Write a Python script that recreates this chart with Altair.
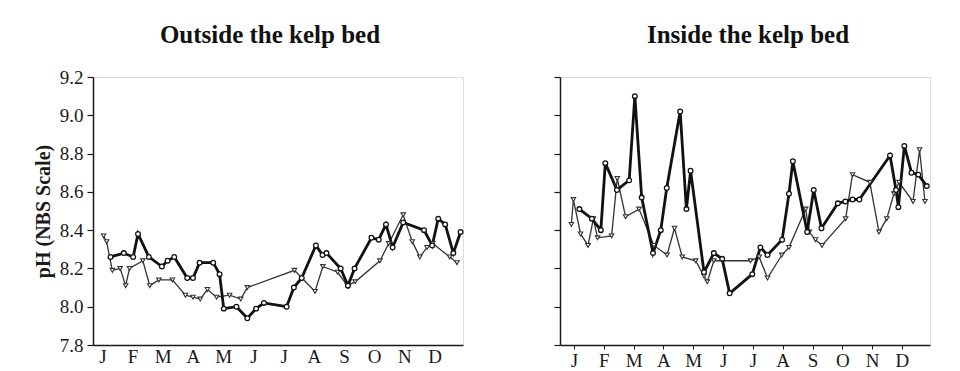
import altair as alt
import pandas as pd

month_labels = ["J", "F", "M", "A", "M", "J", "J", "A", "S", "O", "N", "D"]
y_ticks = [7.8, 8.0, 8.2, 8.4, 8.6, 8.8, 9.0, 9.2]

# Outside the kelp bed
out_thick_m = [0.27, 0.71, 1.02, 1.18, 1.54, 1.97, 2.16, 2.38, 2.81, 3.00, 3.22, 3.67, 3.88, 4.02, 4.44,
               4.80, 5.09, 5.35, 6.10, 6.34, 6.60, 7.07, 7.29, 7.42, 7.89, 8.13, 8.35, 8.91, 9.15, 9.39,
               9.61, 9.96, 10.65, 10.92, 11.12, 11.35, 11.62, 11.86]
out_thick_ph = [8.26, 8.28, 8.26, 8.38, 8.26, 8.21, 8.24, 8.26, 8.15, 8.15, 8.23, 8.23, 8.17, 7.99, 8.00,
                7.94, 7.99, 8.02, 8.00, 8.10, 8.15, 8.32, 8.27, 8.28, 8.20, 8.11, 8.20, 8.36, 8.35, 8.43,
                8.31, 8.44, 8.40, 8.32, 8.46, 8.43, 8.28, 8.39]
out_thin_m = [0.04, 0.14, 0.33, 0.59, 0.77, 0.90, 1.34, 1.57, 1.87, 2.32, 2.75, 3.00, 3.24, 3.48, 3.78,
              4.21, 4.58, 4.80, 6.36, 7.04, 7.30, 7.79, 8.11, 8.37, 9.19, 9.48, 9.96, 10.26, 10.51, 10.75,
              10.94, 11.50, 11.74]
out_thin_ph = [8.37, 8.34, 8.19, 8.20, 8.11, 8.20, 8.24, 8.11, 8.14, 8.14, 8.06, 8.05, 8.04, 8.09, 8.05,
               8.06, 8.04, 8.10, 8.19, 8.08, 8.21, 8.18, 8.11, 8.13, 8.24, 8.33, 8.48, 8.34, 8.26, 8.31,
               8.33, 8.26, 8.23]

# Inside the kelp bed
in_thick_m = [0.18, 0.60, 0.90, 1.05, 1.44, 1.85, 2.04, 2.27, 2.65, 2.91, 3.11, 3.56, 3.77, 3.91, 4.36,
              4.69, 4.97, 5.22, 5.98, 6.25, 6.49, 6.98, 7.21, 7.34, 7.82, 8.04, 8.30, 8.85, 9.10, 9.34,
              9.57, 10.60, 10.80, 10.88, 11.08, 11.32, 11.55, 11.83]
in_thick_ph = [8.51, 8.46, 8.40, 8.75, 8.61, 8.66, 9.10, 8.57, 8.28, 8.40, 8.62, 9.02, 8.51, 8.71, 8.18,
               8.28, 8.25, 8.07, 8.17, 8.31, 8.27, 8.35, 8.59, 8.76, 8.39, 8.61, 8.41, 8.54, 8.55, 8.56,
               8.56, 8.79, 8.61, 8.52, 8.84, 8.70, 8.69, 8.63]
in_thin_m = [-0.09, -0.02, 0.22, 0.47, 0.65, 0.79, 1.26, 1.45, 1.73, 2.18, 2.68, 3.12, 3.37, 3.63, 4.08,
             4.36, 4.47, 4.69, 5.92, 6.21, 6.49, 6.97, 7.21, 7.77, 7.89, 8.10, 8.32, 9.11, 9.34, 9.92,
             10.23, 10.49, 10.73, 10.90, 11.37, 11.59, 11.77]
in_thin_ph = [8.43, 8.56, 8.38, 8.32, 8.46, 8.36, 8.37, 8.67, 8.47, 8.51, 8.32, 8.27, 8.41, 8.26, 8.24,
              8.16, 8.13, 8.24, 8.24, 8.26, 8.15, 8.27, 8.31, 8.51, 8.39, 8.35, 8.32, 8.46, 8.69, 8.65,
              8.39, 8.46, 8.59, 8.65, 8.55, 8.82, 8.55]

FONT = "Liberation Serif"
INK = "#1a1a1a"
label_expr = "[" + ",".join("'%s'" % s for s in month_labels) + "][datum.value]"


def frame(m, ph, series):
    return pd.DataFrame({"m": m, "ph": ph, "series": series, "i": list(range(len(m)))})


def panel(thick_m, thick_ph, thin_m, thin_ph, title, x_domain, show_y, title_dx, title_offset, x_tick):
    df = pd.concat([frame(thick_m, thick_ph, "thick"), frame(thin_m, thin_ph, "thin")])
    x = alt.X("m:Q", scale=alt.Scale(domain=x_domain, nice=False, zero=False),
              axis=alt.Axis(values=list(range(12)), labelExpr=label_expr, title=None,
                            labelFont=FONT, labelFontSize=19, labelColor=INK, labelOverlap=False,
                            tickSize=x_tick, ticks=x_tick > 0, labelPadding=2, domainColor=INK,
                            domainWidth=1.5, tickColor=INK, grid=False))
    if show_y:
        yaxis = alt.Axis(values=y_ticks, format=".1f", title="pH (NBS Scale)",
                         titleFont=FONT, titleFontSize=20, titleFontWeight="bold", titleColor=INK,
                         titlePadding=6, labelFont=FONT, labelFontSize=19, labelColor=INK,
                         tickSize=6, labelPadding=4, domainColor=INK, domainWidth=1.5,
                         tickColor=INK, tickWidth=1.2, grid=False)
    else:
        yaxis = alt.Axis(values=y_ticks, labels=False, title=None, tickSize=6, domainColor=INK,
                         domainWidth=1.5, tickColor=INK, tickWidth=1.2, grid=False)
    y = alt.Y("ph:Q", scale=alt.Scale(domain=[7.8, 9.2], nice=False, zero=False), axis=yaxis)
    base = alt.Chart(df)
    thin = base.transform_filter(alt.datum.series == "thin")
    thick = base.transform_filter(alt.datum.series == "thick")
    thin_line = thin.mark_line(color="#333333", strokeWidth=1.3).encode(x=x, y=y, order="i:Q")
    thick_line = thick.mark_line(color="#111111", strokeWidth=2.8).encode(x=x, y=y, order="i:Q")
    thin_pts = thin.mark_point(shape="triangle-down", filled=True, fill="white", stroke="#333333",
                               strokeWidth=1.1, size=20, opacity=1).encode(x=x, y=y)
    thick_pts = thick.mark_point(shape="circle", filled=True, fill="white", stroke="#111111",
                                 strokeWidth=1.3, size=22, opacity=1).encode(x=x, y=y)
    return alt.layer(thin_line, thick_line, thin_pts, thick_pts).properties(
        width=370, height=268,
        title=alt.TitleParams(title, font=FONT, fontSize=25, fontWeight="bold", color="#111111",
                              offset=title_offset, dx=title_dx, anchor="middle"))


left = panel(out_thick_m, out_thick_ph, out_thin_m, out_thin_ph, "Outside the kelp bed",
             [-0.31, 11.94], True, -8, 20, 0)
right = panel(in_thick_m, in_thick_ph, in_thin_m, in_thin_ph, "Inside the kelp bed",
              [-0.47, 11.94], False, 3, 28, 4)

chart = alt.hconcat(left, right, spacing=85).properties(
    padding={"left": 24, "top": 14, "right": 5, "bottom": 5}
).configure_view(stroke=None).configure(background="white")

chart.save("out.html", embed_options={"renderer": "svg", "actions": False})
